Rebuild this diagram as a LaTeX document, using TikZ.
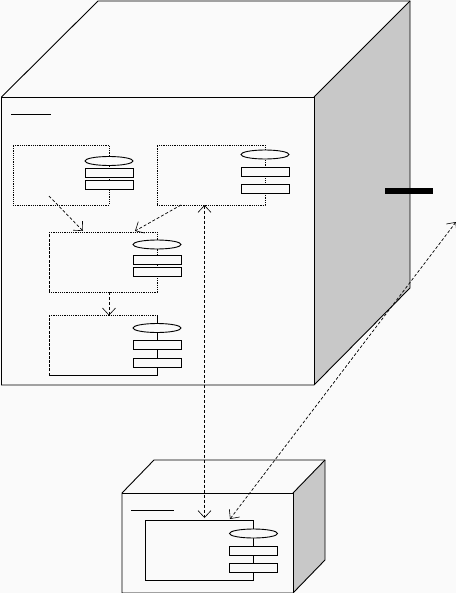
\documentclass[tikz,border=0pt]{standalone}
\usetikzlibrary{arrows.meta,calc,shapes.geometric}
\definecolor{bgc}{HTML}{FAFAFA}
\definecolor{sidec}{HTML}{C8C8C8}
\tikzset{
  x=1bp,y=-1bp,
  every path/.append style={line width=0.9bp},
  body/.style={rectangle,inner sep=0pt,outer sep=0pt,minimum width=108bp,minimum height=60bp,fill=bgc},
  port/.style={rectangle,draw=black,fill=bgc,inner sep=0pt,outer sep=0pt,minimum width=48bp,minimum height=9bp,line width=0.9bp},
  lolly/.style={ellipse,draw=black,fill=bgc,inner sep=0pt,outer sep=0pt,minimum width=48bp,minimum height=9bp,line width=0.9bp},
  dep/.style={densely dashed,line width=0.7bp,-{Straight Barb[length=7bp,width=13bp,line width=0.6bp]}},
  depb/.style={densely dashed,line width=0.7bp,{Straight Barb[length=7bp,width=13bp,line width=0.6bp]}-{Straight Barb[length=7bp,width=13bp,line width=0.6bp]}},
  dotedge/.style={dash pattern=on 1.2bp off 1bp,line width=0.9bp},
  dashedge/.style={dash pattern=on 3bp off 1.2bp,line width=0.9bp},
  solidedge/.style={solid,line width=0.9bp},
}
\begin{document}
\begin{tikzpicture}
\path[use as bounding box,fill=bgc] (0,0) rectangle (456,593);
% large box
\fill[sidec] (314,97) -- (410,1) -- (410,288) -- (314,385) -- cycle;
\draw (1.5,97) -- (98,1) -- (410,1) -- (410,288) -- (314,385) -- (1.5,385) -- cycle;
\draw (1.5,97) -- (314,97) -- (314,385);
\draw (314,97) -- (410,1);
\coordinate (biglabelL) at (11,114);
\coordinate (biglabelR) at (51,114);
\draw (biglabelL) -- (biglabelR);
% small box
\fill[sidec] (293,493) -- (325,460) -- (325,560) -- (293,593) -- cycle;
\draw (122,493) -- (154,460) -- (325,460) -- (325,560) -- (293,593) -- (122,593) -- cycle;
\draw (122,493) -- (293,493) -- (293,593);
\draw (293,493) -- (325,460);
\coordinate (smalllabelL) at (131,510.5);
\coordinate (smalllabelR) at (174,510.5);
\draw (smalllabelL) -- (smalllabelR);
% bar
\node[rectangle,fill=black,inner sep=0pt,outer sep=0pt,minimum width=48bp,minimum height=6bp] (bar) at (409,191) {};
% components
\node[body,minimum width=96bp,draw=black,dotedge] (a) at (61,175) {};
\node[lolly] (ae) at (109,161) {};
\node[port] (ap1) at (109,173) {};
\node[port] (ap2) at (109,185) {};

\node[body,draw=black,dotedge] (b) at (211,175) {};
\node[lolly] (be) at (265,154.5) {};
\node[port] (bp1) at (265,171.5) {};
\node[port] (bp2) at (265,188.5) {};

\node[body] (c) at (103,262) {};
\draw[dotedge] (c.north west) -- (c.north east) -- (c.south east) -- (c.south west);
\draw[dashedge] (c.south west) -- (c.north west);
\node[lolly] (ce) at (157,244.5) {};
\node[port] (cp1) at (157,260) {};
\node[port] (cp2) at (157,272) {};

\node[body] (d) at (103,345.5) {};
\draw[dotedge] (d.north west) -- (d.north east);
\draw[solidedge] (d.north east) -- (d.south east) -- (d.south west);
\draw[dashedge] (d.south west) -- (d.north west);
\node[lolly] (de) at (157,328) {};
\node[port] (dp1) at (157,345) {};
\node[port] (dp2) at (157,362.5) {};

\node[body,draw=black,solidedge] (e) at (199.5,550) {};
\node[lolly] (ee) at (253.5,533.5) {};
\node[port] (ep1) at (253.5,550.5) {};
\node[port] (ep2) at (253.5,567.5) {};
% connectors
\coordinate (astart) at (49,196);
\coordinate (aend) at (83,231);
\coordinate (bstart) at (181,205);
\coordinate (bend) at (135,231);
\coordinate (cstart) at (109,292);
\coordinate (dend) at (109,315.5);
\coordinate (vtop) at (204.5,205);
\coordinate (vbot) at (204.5,518);
\coordinate (free) at (456,222);
\coordinate (eend) at (230,519);
\draw[dep] (astart) -- (aend);
\draw[dep] (bstart) -- (bend);
\draw[dep] (cstart) -- (dend);
\draw[depb] (vtop) -- (vbot);
\draw[depb] (free) -- (eend);
\end{tikzpicture}
\end{document}
